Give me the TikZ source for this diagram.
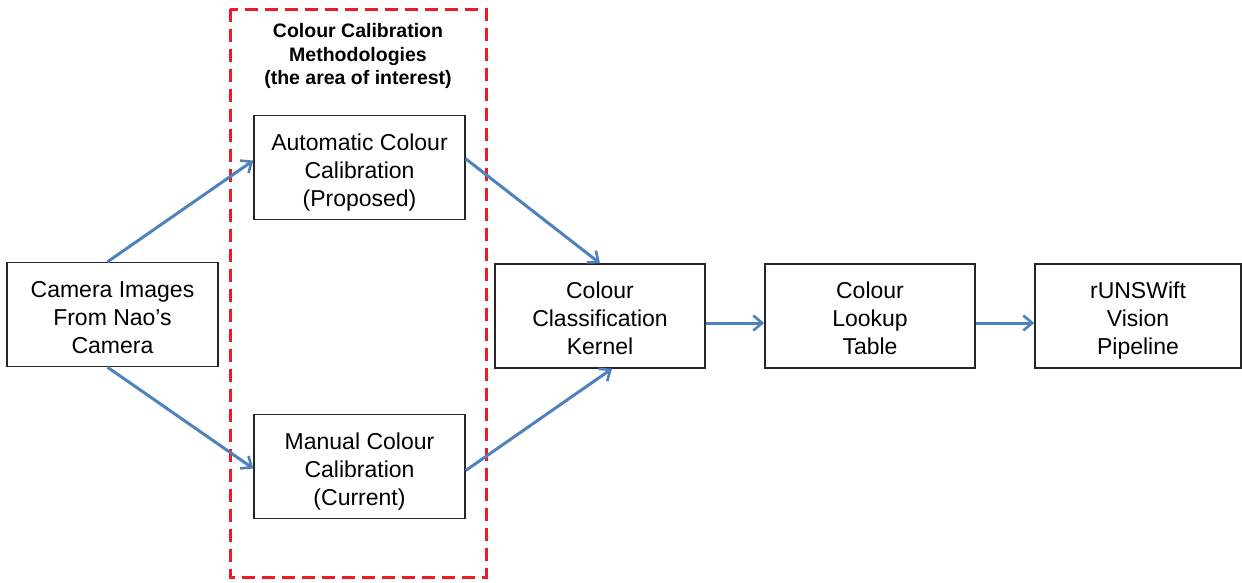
\documentclass[tikz,border=0pt]{standalone}
\usepackage{fontspec}
\setmainfont{Liberation Sans}
\usetikzlibrary{arrows.meta,positioning}

\definecolor{arrowblue}{RGB}{79,129,189}
\definecolor{zonered}{RGB}{237,28,36}
\tikzset{
	stage/.style={draw=black!85, line width=1.4pt, align=center, minimum width=211pt, minimum height=104pt, inner sep=0pt, text height=83pt, text depth=6pt, font=\fontsize{23}{28}\selectfont},
	flow/.style={draw=arrowblue, line width=3pt, -{Straight Barb[length=9pt,width=15pt,line width=2.6pt]}},
}

\begin{document}
\begin{tikzpicture}[x=1pt,y=-1pt]
		\useasboundingbox (0,0) rectangle (1242,582);
		\draw[zonered, line width=3pt, dash pattern=on 13pt off 7pt] (230,9) rectangle (486,577);
		\node[align=center, font=\bfseries\fontsize{19.5}{23.5}\selectfont] (zone) at (358,56) {Colour Calibration\\Methodologies\\(the area of interest)};
		\node[stage] (cam) at (112.5,314.5) {Camera Images\\From Nao’s\\Camera};
		\node[stage] (auto) at (359.5,167.5) {Automatic Colour\\Calibration\\(Proposed)};
		\node[stage] (manual) at (359.5,466.5) {Manual Colour\\Calibration\\(Current)};
		\node[stage, minimum width=210pt] (kernel) at (600,316) {Colour\\Classification\\Kernel};
		\node[stage, minimum width=210pt] (lookup) at (870,316) {Colour\\Lookup\\Table};
		\node[stage, minimum width=206pt] (pipe) at (1138,316) {rUNSWift\\Vision\\Pipeline};
		\draw[flow] ([xshift=-5pt]cam.north) -- ([yshift=7pt]auto.west);
		\draw[flow] ([xshift=-5pt]cam.south) -- ([yshift=-2pt]manual.west);
		\draw[flow] ([yshift=-44pt]auto.north east) -- (kernel.north);
		\draw[flow] ([yshift=-4pt]manual.east) -- ([xshift=12pt]kernel.south);
		\draw[flow] ([yshift=-7pt]kernel.east) -- ([yshift=-7pt]lookup.west);
		\draw[flow] ([yshift=-7pt]lookup.east) -- ([yshift=-7pt]pipe.west);
	\end{tikzpicture}
\end{document}
